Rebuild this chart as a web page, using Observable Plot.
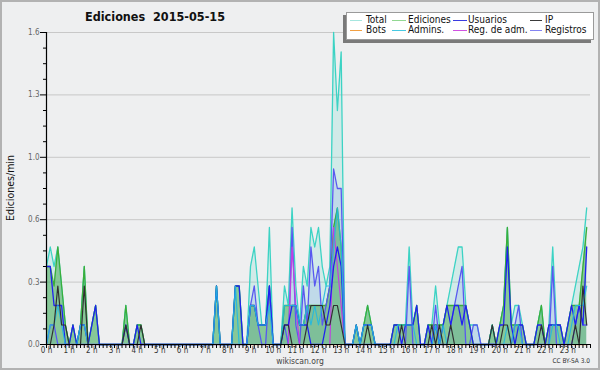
<!DOCTYPE html>
<html>
<head>
<meta charset="utf-8">
<script src="https://cdn.jsdelivr.net/npm/d3@7"></script>
<script src="https://cdn.jsdelivr.net/npm/@observablehq/plot@0.6"></script>
<style>
  html, body { margin: 0; padding: 0; background: #eeeff0; }
  #wrap { position: relative; width: 600px; height: 370px; overflow: hidden; background: #eeeff0;
          font-family: "DejaVu Sans Condensed", "DejaVu Sans", sans-serif; }
  #wrap svg { position: absolute; left: 0; top: 0; }
  .ov { position: absolute; white-space: nowrap; }
  #title { left: 0; width: 310px; top: 9px; text-align: center; font-weight: bold; font-size: 12.5px; color: #111; }
  #legend { left: 346px; top: 12px; width: 246px; height: 26px; background: #fff; border: 1px solid #9a9a9a;
            box-shadow: -3px 3px 0 #7a7a7a; }
  .lg-line { position: absolute; height: 0; border-top: 1px solid; }
  .lg-text { position: absolute; font-size: 10px; color: #111; line-height: 10px; }
  #ylab { left: 10px; top: 188px; transform: translate(-50%, -50%) rotate(-90deg); font-size: 10.5px; color: #111; }
  #site { left: 0; width: 600px; top: 356px; text-align: center; font-size: 8.5px; color: #444; }
  #lic { right: 10px; top: 357px; font-size: 6.5px; color: #333; }
  #frame { position: absolute; left: 0; top: 0; width: 600px; height: 370px; box-sizing: border-box;
           border: 2px solid #b2b2b2; pointer-events: none; }
</style>
</head>
<body>
<div id="wrap"></div>
<script>
// ---- data: values per 10-minute slot (edits per minute), 144 slots ----
const total = [
  .4,.5,.4,.5,.3,.1,0,.1,0,.1,.4,0,
  .1,.2,0,0,0,0,0,0,0,.2,0,0,
  .1,.1,0,0,0,0,0,0,0,0,0,0,
  0,0,0,0,0,0,0,0,0,.3,0,0,
  0,0,.3,.3,0,0,.4,.5,.3,.1,.1,.6,
  0,0,0,.3,.2,.7,.3,.1,.4,.3,.6,.5,
  .6,.4,.3,.4,1.6,1.2,1.5,0,0,0,.1,0,
  .1,.2,.1,0,0,0,0,0,.1,.1,.1,.1,
  .5,.1,.2,0,0,.1,.1,.3,.1,.1,.2,.3,
  .4,.5,.5,.2,.1,.1,.1,0,0,0,.1,0,
  .1,.2,.6,.1,.2,.2,.1,0,0,0,.1,.2,
  0,.1,.5,.1,.1,0,.1,.2,.3,.4,.5,.7
];
const ediciones = [
  .4,.4,.3,.5,.3,.1,0,.1,0,.1,.4,0,
  .1,.2,0,0,0,0,0,0,0,.2,0,0,
  .1,.1,0,0,0,0,0,0,0,0,0,0,
  0,0,0,0,0,0,0,0,0,.3,0,0,
  0,0,.3,.3,0,0,.2,.2,.1,.1,.1,.3,
  0,0,0,.2,.2,.2,.2,.1,.1,.2,.2,.2,
  .2,.2,.2,.3,.6,.7,.5,0,0,0,.1,0,
  .1,.2,.1,0,0,0,0,0,.1,.1,.1,.1,
  .1,.1,.2,0,0,.1,.1,.1,.1,.1,.2,.2,
  .2,.2,.2,.2,.1,0,0,0,0,0,.1,0,
  .1,.2,.6,.1,.1,.1,.1,0,0,0,.1,.2,
  0,.1,.1,.1,.1,0,.1,.2,.2,.2,.4,.6
];
const usuarios = [
  .4,.4,.2,.2,.2,0,0,.1,0,.1,.1,0,
  .1,.2,0,0,0,0,0,0,0,.1,0,0,
  .1,0,0,0,0,0,0,0,0,0,0,0,
  0,0,0,0,0,0,0,0,0,.3,0,0,
  0,0,.3,.3,0,0,.2,.2,.1,.1,.1,.3,
  0,0,0,.1,.1,.2,.2,.1,.1,.1,0,0,
  0,0,.1,.2,.4,.5,.4,0,0,0,.1,0,
  .1,.1,.1,0,0,0,0,0,.1,.1,0,.1,
  .1,.1,.2,0,0,.1,0,.1,0,.1,.2,.1,
  .2,.2,.1,.2,.1,0,0,0,0,0,0,0,
  .1,.1,.5,.1,0,.1,.1,0,0,0,.1,.1,
  0,.1,.1,.1,.1,0,.1,.2,.1,.2,.1,.5
];
const ip = [
  0,0,.1,.3,.1,.1,0,0,0,0,.3,0,
  0,0,0,0,0,0,0,0,0,.1,0,0,
  0,.1,0,0,0,0,0,0,0,0,0,0,
  0,0,0,0,0,0,0,0,0,0,0,0,
  0,0,0,0,0,0,0,0,0,0,0,0,
  0,0,0,.1,.1,0,0,0,0,.1,.2,.2,
  .2,.2,.1,.1,.2,.2,.1,0,0,0,0,0,
  0,.1,0,0,0,0,0,0,0,0,.1,0,
  0,0,0,0,0,0,.1,0,.1,0,0,.1,
  0,0,0,0,0,0,0,0,0,0,.1,0,
  0,.1,.1,0,0,0,0,0,0,0,0,.1,
  0,0,0,0,0,0,0,0,.1,0,.3,.1
];
const bots = [
  0,0,0,0,0,0,0,0,0,0,0,0, 0,0,0,0,0,0,0,0,0,0,0,0,
  0,0,0,0,0,0,0,0,0,0,0,0, 0,0,0,0,0,0,0,0,0,0,0,0,
  0,0,0,0,0,0,0,0,0,0,0,0, 0,0,0,0,0,0,0,0,0,0,0,0,
  0,0,0,0,0,0,0,0,0,0,0,0, 0,0,0,0,0,0,0,0,0,0,0,0,
  0,0,0,0,0,0,0,0,0,0,0,0, 0,0,0,0,0,0,0,0,0,0,0,0,
  0,0,0,0,0,0,0,0,0,0,0,0, 0,0,0,0,0,0,0,0,0,0,0,0
];
const admins = [
  0,.1,.1,.2,.1,0,0,0,0,.1,.1,0,
  0,0,0,0,0,0,0,0,0,0,0,0,
  0,0,0,0,0,0,0,0,0,0,0,0,
  0,0,0,0,0,0,0,0,0,.3,0,0,
  0,0,.3,0,0,0,.2,.2,.1,.1,.1,.2,
  0,0,0,.2,.2,.2,.2,.1,.1,.2,.1,.2,
  .1,.2,.3,.3,.5,.7,.5,0,0,0,.1,0,
  .1,.1,.1,0,0,0,0,0,0,.1,.1,.1,
  .1,.1,0,0,0,0,0,.1,0,.1,0,0,
  0,0,0,0,0,0,0,0,0,0,.1,0,
  0,0,.1,0,.1,.1,0,0,0,0,0,0,
  0,0,.1,.1,0,0,0,.1,.2,.2,.2,.3
];
const regAdm = [
  0,0,0,0,0,0,0,0,0,0,0,0, 0,0,0,0,0,0,0,0,0,0,0,0,
  0,0,0,0,0,0,0,0,0,0,0,0, 0,0,0,0,0,0,0,0,0,0,0,0,
  0,0,0,0,0,0,0,0,0,0,0,0,
  0,0,0,0,0,.5,.2,0,0,0,0,0,
  0,0,0,0,.6,.4,.2,0,0,0,0,0,
  0,0,0,0,0,0,0,0,0,0,0,0,
  0,0,0,0,0,0,0,0,0,0,0,0, 0,0,0,0,0,0,0,0,0,0,0,0,
  0,0,0,0,0,0,0,0,0,0,0,0, 0,0,0,0,0,0,0,0,0,0,0,0
];
const registros = [
  0,.1,.1,0,0,0,0,0,0,0,0,0,
  0,0,0,0,0,0,0,0,0,0,0,0,
  0,0,0,0,0,0,0,0,0,0,0,0,
  0,0,0,0,0,0,0,0,0,0,0,0,
  0,0,0,0,0,0,.2,.3,.1,0,0,.3,
  0,0,0,.1,0,.6,.1,0,.3,.1,.5,.3,
  .4,.1,.2,.3,.9,.8,.8,0,0,0,0,0,
  0,0,0,0,0,0,0,0,0,0,0,0,
  .4,0,0,0,0,0,0,.2,0,0,0,.1,
  .2,.3,.4,0,0,.1,.1,0,0,0,0,0,
  0,0,0,0,.1,.2,0,0,0,0,0,0,
  0,0,.4,0,0,0,0,0,.1,.2,.1,.1
];

const titleText = "Ediciones\u00a0\u00a02015-05-15";
const yAxisLabel = "Ediciones/min";
const yMajor = [0, 0.32, 0.64, 0.96, 1.28, 1.6];
const yMajorLabels = ["0.0", "0.3", "0.6", "1.0", "1.3", "1.6"];
const yMinor = [0.08, 0.16, 0.24, 0.40, 0.48, 0.56, 0.72, 0.80, 0.88, 1.04, 1.12, 1.20, 1.36, 1.44, 1.52];
const hourTicks = [0,1,2,3,4,5,6,7,8,9,10,11,12,13,14,15,16,17,18,19,20,21,22,23];
const hourLabels = ["0 h","1 h","2 h","3 h","4 h","5 h","6 h","7 h","8 h","9 h","10 h","11 h",
                    "12 h","13 h","14 h","15 h","16 h","17 h","18 h","19 h","20 h","21 h","22 h","23 h"];
const legendNames  = ["Total", "Ediciones", "Usuarios", "IP", "Bots", "Admins.", "Reg. de adm.", "Registros"];
const legendColors = ["#a6e6df", "#92d892", "#3b3be0", "#3a3a3a", "#f2a043", "#47c9e2", "#d052e2", "#8484f2"];

// ---- build table ----
const slotsPerHour = 6;
const rows = total.map((t, i) => ({
  h: i / slotsPerHour, total: t, ediciones: ediciones[i], usuarios: usuarios[i], ip: ip[i],
  bots: bots[i], admins: admins[i], regAdm: regAdm[i], registros: registros[i]
}));
const minorX = d3.range(0, 24 * slotsPerHour + 1).map(i => i / slotsPerHour);

const line = (key, stroke, w = 1.25, op = 1) =>
  Plot.lineY(rows, {x: "h", y: key, stroke, strokeWidth: w, strokeOpacity: op});

const chart = Plot.plot({
  width: 600, height: 370,
  marginLeft: 46, marginRight: 10, marginTop: 32, marginBottom: 26,
  x: {domain: [0, 24], axis: null},
  y: {domain: [0, 1.6], axis: null},
  style: {background: "transparent", fontFamily: "'DejaVu Sans Condensed', 'DejaVu Sans', sans-serif", fontSize: "8px"},
  marks: [
    Plot.ruleY(yMajor.slice(1), {stroke: "#c8c8c8", strokeWidth: 1}),
    Plot.areaY(rows, {x: "h", y: "total", fill: "#3fd6c6", fillOpacity: 0.17}),
    Plot.areaY(rows, {x: "h", y: "registros", fill: "#6b86f0", fillOpacity: 0.16}),
    Plot.areaY(rows, {x: "h", y: "ediciones", fill: "#2f9f3a", fillOpacity: 0.46}),
    line("bots", "#f2a043"),
    line("total", "#3cd3c4", 1.3),
    line("ediciones", "#3aae3a", 1.3),
    line("registros", "#5858f0", 1.3),
    line("regAdm", "#c040e0", 1.2),
    line("usuarios", "#2020f0", 1.3),
    line("admins", "#22b8e0", 1.2, 0.9),
    line("ip", "#303030", 1.2),
    Plot.ruleX([0], {y1: 0, y2: 1.6, stroke: "#000", strokeWidth: 1.2}),
    Plot.ruleY([0], {stroke: "#000", strokeWidth: 1.2}),
    Plot.axisY(yMajor, {tickSize: 6, tickPadding: 1, stroke: "#000", fill: "#666", label: null,
                        tickFormat: d => yMajorLabels[yMajor.indexOf(d)]}),
    Plot.axisY(yMinor, {tickSize: 3, stroke: "#000", label: null, tickFormat: () => ""}),
    Plot.axisX(minorX, {tickSize: 4, stroke: "#000", label: null, tickFormat: () => ""}),
    Plot.axisX(hourTicks, {tickSize: 0, tickPadding: 3, fill: "#333", label: null,
                           tickFormat: d => hourLabels[hourTicks.indexOf(d)]})
  ]
});

const wrap = document.getElementById("wrap");
wrap.appendChild(chart);

function addDiv(id, text) {
  const d = document.createElement("div");
  d.className = "ov"; if (id) d.id = id; if (text != null) d.textContent = text;
  wrap.appendChild(d); return d;
}
addDiv("title", titleText);
addDiv("ylab", yAxisLabel);
addDiv("site", "wikiscan.org");
addDiv("lic", "CC BY-SA 3.0");

// legend
const lg = addDiv("legend");
const colLine = [[3, 12], [45, 14], [106, 14], [183, 12]];
const colText = [19, 61, 121, 198];
const rowY = [6, 16];
legendNames.forEach((name, k) => {
  const c = k % 4, r = Math.floor(k / 4);
  const ln = document.createElement("div");
  ln.className = "lg-line";
  ln.style.left = colLine[c][0] + "px"; ln.style.width = colLine[c][1] + "px";
  ln.style.top = (rowY[r] + 1) + "px"; ln.style.borderTopColor = legendColors[k];
  lg.appendChild(ln);
  const tx = document.createElement("div");
  tx.className = "lg-text"; tx.textContent = name;
  tx.style.left = colText[c] + "px"; tx.style.top = (rowY[r] - 4) + "px";
  lg.appendChild(tx);
});
const fr = document.createElement("div"); fr.id = "frame"; wrap.appendChild(fr);
</script>
</body>
</html>
